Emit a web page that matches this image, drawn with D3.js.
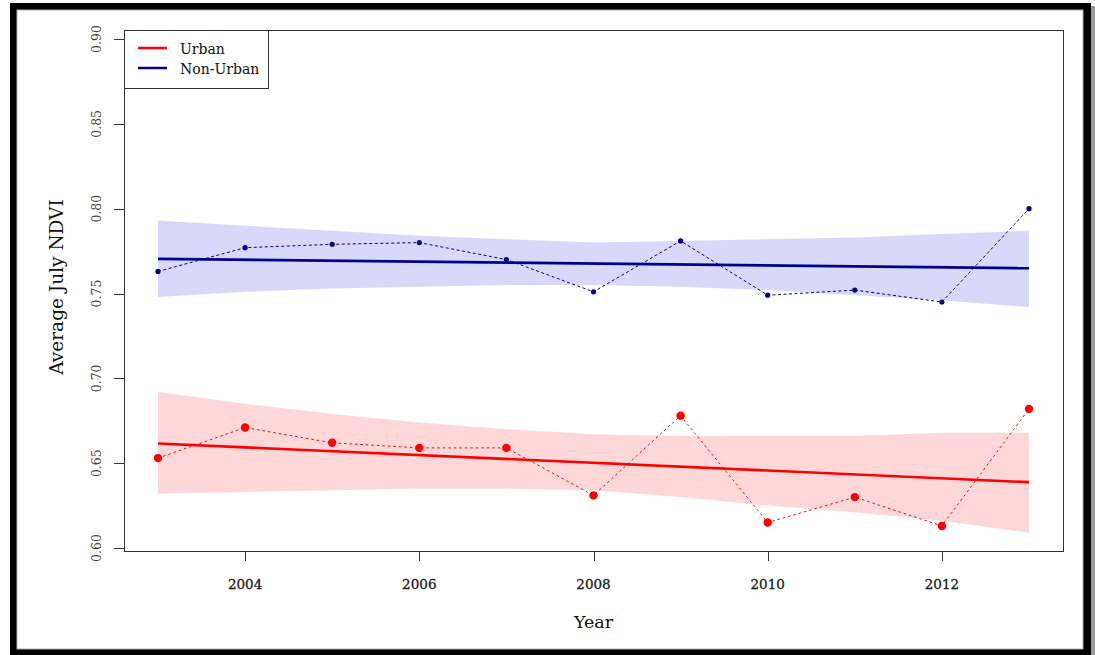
<!DOCTYPE html>
<html>
<head>
<meta charset="utf-8">
<script src="https://cdn.jsdelivr.net/npm/d3@7"></script>
<style>
  html, body { margin: 0; padding: 0; background: #fff; }
  svg { display: block; }
  text { font-family: "DejaVu Serif", serif; }
</style>
</head>
<body>
<svg id="chart" width="1095" height="655"></svg>
<script>
// Average July NDVI per year, urban vs non-urban pixels
const years = [2003, 2004, 2005, 2006, 2007, 2008, 2009, 2010, 2011, 2012, 2013];
const urban    = [0.653, 0.671, 0.662, 0.659, 0.659, 0.631, 0.678, 0.615, 0.630, 0.613, 0.682];
const nonUrban = [0.763, 0.777, 0.779, 0.780, 0.770, 0.751, 0.781, 0.749, 0.752, 0.745, 0.800];

// linear trend end points and 95% confidence band per year
const fitYears = [2003, 2013];
const urbanFit    = [0.6616, 0.6388];
const nonUrbanFit = [0.7704, 0.7649];
const urbanUpper    = [0.692, 0.685, 0.679, 0.674, 0.670, 0.667, 0.666, 0.666, 0.666, 0.668, 0.668];
const urbanLower    = [0.632, 0.633, 0.634, 0.635, 0.635, 0.634, 0.630, 0.625, 0.621, 0.616, 0.609];
const nonUrbanUpper = [0.793, 0.790, 0.787, 0.784, 0.782, 0.780, 0.781, 0.782, 0.783, 0.785, 0.787];
const nonUrbanLower = [0.748, 0.751, 0.753, 0.754, 0.755, 0.755, 0.754, 0.752, 0.749, 0.746, 0.742];

const xTicks = [2004, 2006, 2008, 2010, 2012];
const yTicks = [0.60, 0.65, 0.70, 0.75, 0.80, 0.85, 0.90];
const legendLabels = ["Urban", "Non-Urban"];

const svg = d3.select("#chart");

// outer frame
svg.append("rect").attr("x", 1091).attr("y", 6).attr("width", 4).attr("height", 649).attr("fill", "#9a9a9a");
svg.append("rect").attr("x", 10).attr("y", 3).attr("width", 1081).attr("height", 652).attr("fill", "#000");
svg.append("rect").attr("x", 17).attr("y", 10).attr("width", 1066).attr("height", 639)
  .attr("fill", "#fff").attr("stroke", "#b0b0b0").attr("stroke-width", 1);

const box = { left: 124, top: 30, right: 1063, bottom: 551 };

const x = d3.scaleLinear().domain([2003, 2013]).range([158, 1029]);
const y = d3.scaleLinear().domain([0.60, 0.90]).range([548, 39]);

const series = [
  { name: "Urban", values: urban, upper: urbanUpper, lower: urbanLower, fit: urbanFit,
    line: "#ff0000", band: "#fed8d8", r: 4.2, dash: "2.5,3", fitW: 2.6 },
  { name: "Non-Urban", values: nonUrban, upper: nonUrbanUpper, lower: nonUrbanLower, fit: nonUrbanFit,
    line: "#00008b", band: "#d8d8fb", r: 2.6, dash: "3,2.5", fitW: 2.8 }
];

const plot = svg.append("g");

// confidence bands
const area = d3.area()
  .x(d => x(d.year))
  .y0(d => y(d.lo))
  .y1(d => y(d.hi));
series.forEach(s => {
  plot.append("path")
    .datum(years.map((yr, i) => ({ year: yr, lo: s.lower[i], hi: s.upper[i] })))
    .attr("d", area)
    .attr("fill", s.band);
});

// trend lines
const line = d3.line().x(d => x(d[0])).y(d => y(d[1]));
series.forEach(s => {
  plot.append("path")
    .datum(fitYears.map((yr, i) => [yr, s.fit[i]]))
    .attr("d", line)
    .attr("fill", "none")
    .attr("stroke", s.line)
    .attr("stroke-width", s.fitW);
});

// observed values: dashed connectors + points
series.forEach(s => {
  plot.append("path")
    .datum(years.map((yr, i) => [yr, s.values[i]]))
    .attr("d", line)
    .attr("fill", "none")
    .attr("stroke", s.line)
    .attr("stroke-width", 1)
    .attr("stroke-dasharray", s.dash);
  plot.selectAll(null)
    .data(years.map((yr, i) => [yr, s.values[i]]))
    .join("circle")
    .attr("cx", d => x(d[0]))
    .attr("cy", d => y(d[1]))
    .attr("r", s.r)
    .attr("fill", s.line);
});

// plot box
svg.append("rect")
  .attr("x", box.left + 0.5).attr("y", box.top + 0.5)
  .attr("width", box.right - box.left).attr("height", box.bottom - box.top)
  .attr("fill", "none").attr("stroke", "#333").attr("stroke-width", 1);

// y axis
const yAxis = svg.append("g");
yTicks.forEach(t => {
  const py = Math.round(y(t)) + 0.5;
  yAxis.append("line").attr("x1", 114).attr("x2", box.left).attr("y1", py).attr("y2", py)
    .attr("stroke", "#333").attr("stroke-width", 1);
  yAxis.append("text")
    .attr("transform", `translate(101,${y(t)}) rotate(-90)`)
    .attr("text-anchor", "middle")
    .attr("font-size", 12.5)
    .attr("fill", "#444")
    .text(d3.format(".2f")(t));
});

// x axis
const xAxis = svg.append("g");
xTicks.forEach(t => {
  const px = Math.round(x(t)) + 0.5;
  xAxis.append("line").attr("x1", px).attr("x2", px).attr("y1", box.bottom).attr("y2", 561)
    .attr("stroke", "#333").attr("stroke-width", 1);
  xAxis.append("text")
    .attr("x", x(t)).attr("y", 589)
    .attr("text-anchor", "middle")
    .attr("font-size", 13.5)
    .attr("fill", "#1a1a1a")
    .attr("stroke", "#1a1a1a")
    .attr("stroke-width", 0.3)
    .text(t);
});

// axis titles
svg.append("text")
  .attr("x", x(2008)).attr("y", 628)
  .attr("text-anchor", "middle")
  .attr("font-size", 17.5)
  .attr("fill", "#111")
  .text("Year");
svg.append("text")
  .attr("transform", `translate(63,287) rotate(-90)`)
  .attr("text-anchor", "middle")
  .attr("font-size", 18.5)
  .attr("fill", "#111")
  .text("Average July NDVI");

// legend
const legend = svg.append("g");
legend.append("rect")
  .attr("x", box.left + 0.5).attr("y", box.top + 0.5)
  .attr("width", 144).attr("height", 58)
  .attr("fill", "#fff").attr("stroke", "#333").attr("stroke-width", 1);
series.forEach((s, i) => {
  const ly = 48 + i * 20;
  legend.append("line").attr("x1", 138).attr("x2", 167).attr("y1", ly).attr("y2", ly)
    .attr("stroke", s.line).attr("stroke-width", 2.5);
  legend.append("text")
    .attr("x", 180).attr("y", ly + 6)
    .attr("font-size", 14)
    .attr("fill", "#111")
    .text(legendLabels[i]);
});
</script>
</body>
</html>
